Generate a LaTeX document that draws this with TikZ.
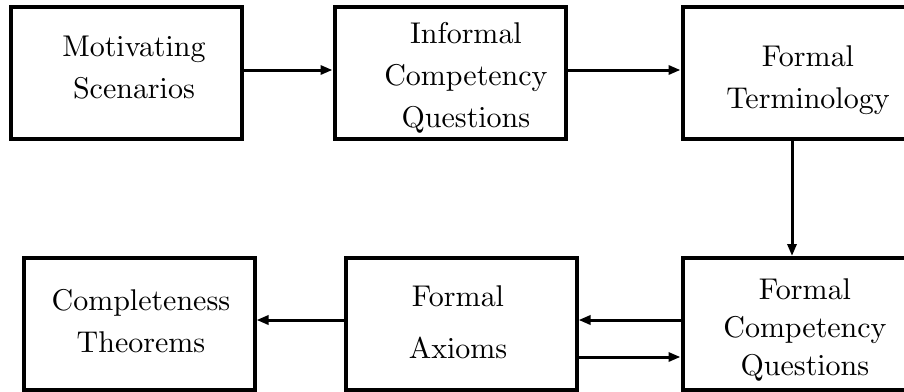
\documentclass[tikz,border=0pt]{standalone}
\usetikzlibrary{arrows.meta}
\font\bigrm = cmr10 at 30pt
\tikzset{
  box/.style = {draw, line width = 4pt, minimum width = 231pt, minimum height = 132pt, inner sep = 0pt},
  txt/.style = {align = center, inner sep = 0pt, font = \fontsize{30}{42}\selectfont\bigrm},
  arr/.style = {line width = 3pt, -{Triangle[length = 12pt, width = 9pt]}}
}
\begin{document}
\begin{tikzpicture}[x = 1pt, y = -1pt]
	\useasboundingbox (0, 0) rectangle (904, 391);
	\clip (0, 0) rectangle (904, 391);
	% top row
		\node[box] (ms) at (126, 73) {};
		\node[box] (icq) at (450, 73) {};
		\node[box] (ft) at (798, 73) {};
		\node[txt] (mstxt) at (134, 67) {Motivating\\Scenarios};
		\node[txt] (icqtxt) at (466, 78) {Informal\\Competency\\Questions};
		\node[txt] (fttxt) at (808, 80) {Formal\\Terminology};
	% bottom row
		\node[box] (ct) at (139, 324) {};
		\node[box] (fa) at (461, 324) {};
		\node[box] (fcq) at (798, 324) {};
		\node[txt] (cttxt) at (141, 321) {Completeness\\Theorems};
		\node[txt] (fatxt) at (458, 322) {Formal\\[10pt]Axioms};
		\node[txt] (fcqtxt) at (805, 330) {Formal\\[-4pt]Competency\\[-4pt]Questions};
	% arrows
		\draw[arr] ([yshift = 3pt]ms.east) -- ([yshift = 3pt]icq.west);
		\draw[arr] ([yshift = 3pt]icq.east) -- ([yshift = 3pt]ft.west);
		\draw[arr] ([xshift = -6pt]ft.south) -- ([xshift = -6pt]fcq.north);
		\draw[arr] ([yshift = 4pt]fcq.west) -- ([yshift = 4pt]fa.east);
		\draw[arr] ([yshift = -33pt]fa.east) -- ([yshift = -33pt]fcq.west);
		\draw[arr] ([yshift = 4pt]fa.west) -- ([yshift = 4pt]ct.east);
\end{tikzpicture}
\end{document}
